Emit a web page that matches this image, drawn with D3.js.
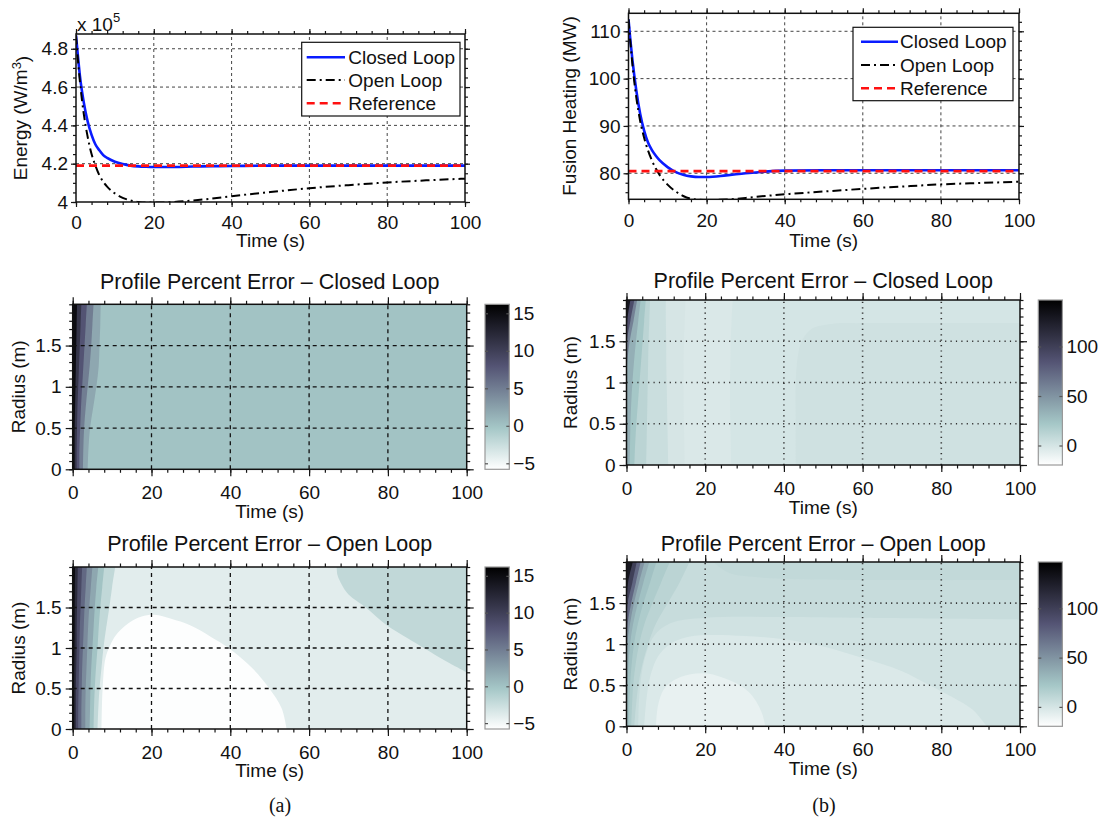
<!DOCTYPE html>
<html>
<head>
<meta charset="utf-8">
<script src="https://cdn.jsdelivr.net/npm/d3@7"></script>
<style>
  body { margin: 0; background: #fff; }
  text { font-family: "Liberation Sans", Arial, Helvetica, sans-serif; fill: #111; }
  .serif { font-family: "Liberation Serif", "Times New Roman", serif; }
</style>
</head>
<body>
<svg id="fig" width="1104" height="829"></svg>
<script>
// ---------- data ----------
const timeS = [0, 0.5, 1, 2, 3, 4, 5, 6, 7, 8, 10, 12, 14, 16, 18, 20, 25, 30, 35, 40, 50, 60, 70, 80, 90, 100];

// (a) energy, x 10^5 W/m^3
const energyClosed = [4.87, 4.76, 4.66, 4.52, 4.42, 4.35, 4.30, 4.27, 4.245, 4.23, 4.21, 4.198, 4.19, 4.186, 4.184, 4.183, 4.183, 4.185, 4.187, 4.188, 4.19, 4.19, 4.19, 4.19, 4.19, 4.19];
const energyOpen = [4.87, 4.74, 4.63, 4.46, 4.34, 4.25, 4.19, 4.14, 4.105, 4.08, 4.045, 4.022, 4.008, 4.0, 3.997, 3.997, 4.0, 4.008, 4.018, 4.03, 4.052, 4.072, 4.088, 4.102, 4.113, 4.122];
const energyRef = 4.19;

// (b) fusion heating, MW
const fusionClosed = [112.5, 108, 104, 97.5, 92.5, 89, 86.5, 84.9, 83.7, 82.7, 81.3, 80.3, 79.7, 79.35, 79.2, 79.2, 79.55, 80.0, 80.35, 80.55, 80.65, 80.65, 80.65, 80.65, 80.65, 80.65];
const fusionOpen = [112.5, 107.5, 103, 96, 91, 87.5, 84.8, 82.7, 81.0, 79.6, 77.6, 76.2, 75.2, 74.6, 74.4, 74.35, 74.45, 74.8, 75.2, 75.55, 76.15, 76.7, 77.2, 77.65, 77.95, 78.2];
const fusionRef = 80.45;

// tick values / labels
const timeTicks = [0, 20, 40, 60, 80, 100];
const energyTicks = [4, 4.2, 4.4, 4.6, 4.8];
const fusionTicks = [80, 90, 100, 110];
const radiusTicks = [0, 0.5, 1, 1.5];
const cbarTicksA = [-5, 0, 5, 10, 15];
const cbarTicksB = [0, 50, 100];
const cbarRangeA = [-5.8, 16.2];
const cbarRangeB = [-19.7, 147];
const legendNames = ["Closed Loop", "Open Loop", "Reference"];

// contour regions: radius samples for the band edges (time at each radius)
const radiusGrid = [0, 0.25, 0.5, 0.75, 1, 1.25, 1.5, 1.75, 2];

// profile percent error (a), closed loop
const closedABase = 0;
const closedAPatches = [];
const closedABands = [
  [2, [3.8, 4.0, 4.4, 5.2, 6.0, 6.6, 6.8, 7.0, 7.1]],
  [5, [2.6, 2.7, 2.9, 3.3, 3.8, 4.3, 4.7, 5.0, 5.3]],
  [8, [1.7, 1.7, 1.9, 2.1, 2.4, 2.7, 3.0, 3.3, 3.6]],
  [11, [1.0, 1.0, 1.1, 1.2, 1.4, 1.6, 1.8, 2.0, 2.2]],
  [15, [0.5, 0.5, 0.5, 0.6, 0.7, 0.8, 0.9, 1.0, 1.1]]
];

// profile percent error (a), open loop
const openABase = -4;
const openAPatches = [
  [-2, [[67, 2], [67.2, 1.9], [68.3, 1.78], [70, 1.66], [74.4, 1.5], [79.7, 1.28], [85, 1.12], [89.1, 1.0], [95, 0.83], [100, 0.7]], [[100, 2]]],
  [-5.7, [[7.3, 0], [7.4, 0.25], [7.6, 0.5], [8.3, 0.87], [9.5, 1.03], [11, 1.16], [14.6, 1.32], [17.5, 1.39], [20.8, 1.41], [25, 1.36], [29.8, 1.28], [35, 1.14], [39.6, 1.0], [45.8, 0.74], [49.9, 0.5], [53, 0.26], [54.3, 0]], []]
];
const openABands = [
  [-2, [6.3, 6.5, 6.8, 7.3, 7.8, 8.5, 9.3, 10.0, 10.8]],
  [0, [5.3, 5.4, 5.6, 5.9, 6.3, 6.6, 7.0, 7.5, 8.0]],
  [2, [4.3, 4.4, 4.5, 4.7, 5.0, 5.3, 5.6, 6.0, 6.5]],
  [4, [3.2, 3.2, 3.3, 3.5, 3.7, 3.9, 4.2, 4.6, 5.0]],
  [6.5, [2.2, 2.2, 2.3, 2.4, 2.6, 2.8, 3.0, 3.3, 3.6]],
  [9, [1.4, 1.4, 1.5, 1.6, 1.7, 1.8, 2.0, 2.2, 2.4]],
  [12, [0.8, 0.8, 0.8, 0.9, 1.0, 1.0, 1.1, 1.2, 1.3]],
  [15, [0.4, 0.4, 0.4, 0.4, 0.45, 0.5, 0.5, 0.55, 0.6]]
];

// profile percent error (b), closed loop
const closedBBase = 0;
const closedBPatches = [
  [2.5, [[43, 0], [43, 0.5], [43, 1.0], [43.5, 1.3], [44.5, 1.5], [47, 1.65], [52, 1.71], [60, 1.72], [100, 1.72]], [[100, 0]]]
];
const closedBBands = [
  [-2.5, [26.6, 26.5, 26.4, 26.3, 26.3, 26.4, 26.5, 26.7, 27.0]],
  [-0.5, [14.8, 14.7, 14.6, 14.5, 14.5, 14.5, 14.6, 14.8, 15.0]],
  [5, [10.6, 10.5, 10.4, 10.3, 10.2, 10.1, 10.1, 10.0, 10.0]],
  [12, [5.0, 5.1, 5.2, 5.3, 5.4, 5.5, 5.6, 5.8, 6.0]],
  [22, [2.0, 2.2, 2.5, 2.9, 3.3, 3.7, 4.1, 4.5, 4.9]],
  [35, [0.8, 0.9, 1.0, 1.2, 1.5, 1.9, 2.4, 3.0, 3.6]],
  [60, [0, 0, 0, 0, 0, 0.2, 0.8, 1.8, 2.7]],
  [90, [0, 0, 0, 0, 0, 0, 0.1, 1.0, 2.0]],
  [130, [0, 0, 0, 0, 0, 0, 0, 0.2, 1.0]]
];

// profile percent error (b), open loop
const openBBase = 6;
const openBPatches = [
  [8.5, [[22, 2], [26, 1.87], [32, 1.82], [45, 1.79], [70, 1.78], [100, 1.78]], [[100, 2]]],
  [2, [[3, 0], [3.3, 0.4], [4.5, 0.8], [7, 1.1], [11, 1.25], [20, 1.32], [40, 1.33], [60, 1.32], [100, 1.3]], [[100, 0]]],
  [-3, [[4.5, 0], [5, 0.3], [6, 0.6], [8, 0.85], [11, 1.0], [15, 1.08], [20, 1.11], [30, 1.1], [40, 1.06], [50, 0.97], [60, 0.83], [70, 0.67], [77, 0.5], [83, 0.35], [88, 0.2], [91.5, 0]], []],
  [-9, [[7.5, 0], [8, 0.25], [9.5, 0.45], [12, 0.56], [16, 0.63], [20, 0.645], [24, 0.6], [28, 0.52], [31, 0.42], [33, 0.3], [34.5, 0.15], [35.3, 0]], []]
];
const openBBands = [
  [12, [2.0, 2.4, 3.0, 4.0, 5.5, 7.5, 10.5, 13.5, 16]],
  [18, [1.2, 1.4, 1.7, 2.3, 3.2, 4.6, 6.6, 8.8, 11]],
  [25, [0.6, 0.7, 0.9, 1.3, 1.9, 2.9, 4.3, 6.0, 7.6]],
  [35, [0.2, 0.2, 0.3, 0.5, 0.9, 1.7, 2.9, 4.3, 5.8]],
  [50, [0, 0, 0, 0, 0.2, 0.9, 1.9, 3.2, 4.6]],
  [75, [0, 0, 0, 0, 0, 0.3, 1.2, 2.4, 3.6]],
  [100, [0, 0, 0, 0, 0, 0, 0.3, 1.5, 2.6]],
  [130, [0, 0, 0, 0, 0, 0, 0, 0.4, 1.6]]
];

// ---------- drawing ----------
const FONT = 19;
const svg = d3.select("#fig");
const defs = svg.append("defs");
const fmt = d => String(d).replace("-", "\u2212");

// reversed "bone" colormap
const cmap = d3.scaleLinear()
  .domain([0, 0.25, 0.625, 1])
  .range(["#ffffff", "rgb(165,199,199)", "rgb(84,84,116)", "#000000"])
  .clamp(true);
const colorFor = range => {
  const n = d3.scaleLinear().domain(range).range([0, 1]).clamp(true);
  return v => cmap(n(v));
};

function axisStyle(sel) {
  sel.attr("color", "#151515").attr("font-size", FONT).attr("font-family", null);
  sel.select(".domain").remove();
  sel.selectAll("line").attr("stroke-width", 1.2);
}

function drawAxes(g, x, y, o) {
  const [x0, x1] = x.range();
  const [y1, y0] = y.range();
  const add = (tr, ax) => g.append("g").attr("transform", tr).call(ax).call(axisStyle);
  // minor ticks
  add(`translate(0,${y1})`, d3.axisBottom(x).tickValues(o.xMinor).tickSize(o.minor).tickFormat(""));
  add(`translate(0,${y0})`, d3.axisTop(x).tickValues(o.xMinor).tickSize(o.minor).tickFormat(""));
  add(`translate(${x0},0)`, d3.axisLeft(y).tickValues(o.yMinor).tickSize(o.minor).tickFormat(""));
  add(`translate(${x1},0)`, d3.axisRight(y).tickValues(o.yMinor).tickSize(o.minor).tickFormat(""));
  // major ticks
  add(`translate(0,${y1})`, d3.axisBottom(x).tickValues(o.xTicks).tickSize(o.major).tickPadding(o.padX).tickFormat(fmt));
  add(`translate(0,${y0})`, d3.axisTop(x).tickValues(o.xTicks).tickSize(o.major).tickFormat(""));
  add(`translate(${x0},0)`, d3.axisLeft(y).tickValues(o.yTicks).tickSize(o.major).tickPadding(o.padY).tickFormat(fmt));
  add(`translate(${x1},0)`, d3.axisRight(y).tickValues(o.yTicks).tickSize(o.major).tickFormat(""));
  g.append("rect")
    .attr("x", x0).attr("y", y0).attr("width", x1 - x0).attr("height", y1 - y0)
    .attr("fill", "none").attr("stroke", "#111").attr("stroke-width", 1.5);
}

function drawGrid(g, x, y, xs, ys, st) {
  const [x0, x1] = x.range();
  const [y1, y0] = y.range();
  const gg = g.append("g")
    .attr("stroke", st.color).attr("stroke-width", st.width)
    .attr("stroke-dasharray", st.dash).attr("stroke-linecap", st.cap || "butt");
  gg.selectAll(".gv").data(xs.filter(d => d > x.domain()[0] && d < x.domain()[1])).join("line")
    .attr("x1", d => x(d)).attr("x2", d => x(d)).attr("y1", y1).attr("y2", y0);
  gg.selectAll(".gh").data(ys.filter(d => d > y.domain()[0] && d < y.domain()[1])).join("line")
    .attr("y1", d => y(d)).attr("y2", d => y(d)).attr("x1", x0).attr("x2", x1);
}

function labels(o) {
  svg.append("text").attr("x", o.xl[0]).attr("y", o.xl[1])
    .attr("text-anchor", "middle").attr("font-size", FONT).text("Time (s)");
  const yl = svg.append("text")
    .attr("transform", `translate(${o.yl[0]},${o.yl[1]}) rotate(-90)`)
    .attr("text-anchor", "middle").attr("dy", "0.35em").attr("font-size", FONT);
  if (o.ySup) {
    yl.append("tspan").text(o.yText);
    yl.append("tspan").attr("dy", "-0.45em").attr("font-size", 13).text(o.ySup);
    yl.append("tspan").attr("dy", "0.45em").text(")");
  } else {
    yl.text(o.yText);
  }
}

let clipN = 0;
function clipRect(x, y) {
  const id = "clip" + (clipN++);
  const [x0, x1] = x.range();
  const [y1, y0] = y.range();
  defs.append("clipPath").attr("id", id).append("rect")
    .attr("x", x0).attr("y", y0).attr("width", x1 - x0).attr("height", y1 - y0);
  return `url(#${id})`;
}

function linePanel(o) {
  const g = svg.append("g");
  const x = d3.scaleLinear().domain([0, 100]).range(o.xr);
  const y = d3.scaleLinear().domain(o.yd).range(o.yr);
  drawGrid(g, x, y, timeTicks, o.yTicks, { color: "#444", width: 1, dash: "3,3" });

  const plot = g.append("g").attr("clip-path", clipRect(x, y));
  const line = d3.line().x((d, i) => x(timeS[i])).y(d => y(d)).curve(d3.curveMonotoneX);
  plot.append("path").attr("d", line(o.closed)).attr("fill", "none")
    .attr("stroke", "#0a1cff").attr("stroke-width", 2.6);
  plot.append("path").attr("d", line(o.open)).attr("fill", "none")
    .attr("stroke", "#000").attr("stroke-width", 2).attr("stroke-dasharray", "9,4,2,4");
  plot.append("line").attr("x1", x(0)).attr("x2", x(100)).attr("y1", y(o.ref)).attr("y2", y(o.ref))
    .attr("stroke", "#ff1010").attr("stroke-width", 2.6).attr("stroke-dasharray", "8,5");

  drawAxes(g, x, y, {
    xTicks: timeTicks, xMinor: d3.range(0, 101, 4),
    yTicks: o.yTicks, yMinor: o.yMinor,
    major: 5, minor: 3, padX: 9, padY: 3
  });

  // legend
  const L = o.legend;
  const lg = g.append("g");
  lg.append("rect").attr("x", L.x).attr("y", L.y).attr("width", L.w).attr("height", L.h)
    .attr("fill", "#fff").attr("stroke", "#111").attr("stroke-width", 1.2);
  const styles = [
    { c: "#0a1cff", d: null, w: 2.6 },
    { c: "#000", d: "9,4,2,4", w: 2 },
    { c: "#ff1010", d: "8,5", w: 2.6 }
  ];
  legendNames.forEach((name, i) => {
    const yy = L.rows[i];
    lg.append("line").attr("x1", L.lx[0]).attr("x2", L.lx[1]).attr("y1", yy).attr("y2", yy)
      .attr("stroke", styles[i].c).attr("stroke-width", styles[i].w)
      .attr("stroke-dasharray", styles[i].d);
    lg.append("text").attr("x", L.tx).attr("y", yy).attr("dy", "0.35em")
      .attr("font-size", FONT).text(name);
  });
  labels(o);
  return { g, x, y };
}

function contourPanel(o) {
  const g = svg.append("g");
  const x = d3.scaleLinear().domain([0, 100]).range(o.xr);
  const y = d3.scaleLinear().domain([0, 2]).range(o.yr);
  const col = colorFor(o.crange);
  const plot = g.append("g").attr("clip-path", clipRect(x, y));
  plot.append("rect").attr("x", o.xr[0]).attr("y", o.yr[1])
    .attr("width", o.xr[1] - o.xr[0]).attr("height", o.yr[0] - o.yr[1])
    .attr("fill", col(o.base));
  const curve = d3.line().x(d => x(d[0])).y(d => y(d[1])).curve(d3.curveCatmullRom);
  o.patches.forEach(([v, pts, corners]) => {
    const tail = corners.map(p => `L${x(p[0])},${y(p[1])}`).join("");
    plot.append("path").attr("d", curve(pts) + tail + "Z").attr("fill", col(v));
  });
  o.bands.forEach(([v, edge]) => {
    const pts = radiusGrid.map((r, i) => [edge[i], r]);
    const tail = `L${x(-1)},${y(2.05)}L${x(-1)},${y(-0.05)}`;
    plot.append("path").attr("d", curve(pts) + tail + "Z").attr("fill", col(v));
  });
  drawGrid(g, x, y, timeTicks, radiusTicks, o.gridStyle);
  drawAxes(g, x, y, {
    xTicks: timeTicks, xMinor: d3.range(0, 101, 4),
    yTicks: radiusTicks, yMinor: d3.range(0, 2.001, 0.1),
    major: 7, minor: 3.5, padX: 9.5, padY: 4
  });
  svg.append("text").attr("x", (o.xr[0] + o.xr[1]) / 2).attr("y", o.titleY)
    .attr("text-anchor", "middle").attr("font-size", 21.5).text(o.title);
  labels(o);

  // colorbar
  const cb = o.cbar;
  const gid = "grad" + clipN;
  const grad = defs.append("linearGradient").attr("id", gid)
    .attr("x1", 0).attr("y1", 1).attr("x2", 0).attr("y2", 0);
  d3.range(0, 1.0001, 0.125).forEach(s => grad.append("stop").attr("offset", s).attr("stop-color", cmap(s)));
  const cy = d3.scaleLinear().domain(o.crange).range(o.yr);
  const cg = svg.append("g");
  cg.append("rect").attr("x", cb[0]).attr("y", o.yr[1]).attr("width", cb[1] - cb[0])
    .attr("height", o.yr[0] - o.yr[1]).attr("fill", `url(#${gid})`)
    .attr("stroke", "#999").attr("stroke-width", 1.2);
  cg.append("g").attr("transform", `translate(${cb[1]},0)`)
    .call(d3.axisLeft(cy).tickValues(o.cticks).tickSize(3).tickFormat("")).call(axisStyle)
    .selectAll("line").attr("stroke", "#555");
  cg.append("g").attr("transform", `translate(${cb[0]},0)`)
    .call(d3.axisRight(cy).tickValues(o.cticks).tickSize(3).tickFormat("")).call(axisStyle)
    .selectAll("line").attr("stroke", "#555");
  cg.append("g").attr("transform", `translate(${cb[1]},0)`)
    .call(d3.axisRight(cy).tickValues(o.cticks).tickSize(0).tickPadding(4).tickFormat(fmt)).call(axisStyle);
}

// ---- top line plots ----
linePanel({
  xr: [76, 465], yr: [202, 34], yd: [4, 4.877],
  yTicks: energyTicks, yMinor: d3.range(4, 4.88, 0.05),
  closed: energyClosed, open: energyOpen, ref: energyRef,
  legend: { x: 301.7, y: 42.3, w: 158.3, h: 73.7, rows: [57.3, 80, 103.3], lx: [306.7, 345], tx: 348.3 },
  xl: [270.5, 247], yl: [20, 118], yText: "Energy (W/m", ySup: "3"
});
const exp = svg.append("text").attr("x", 77).attr("y", 31).attr("font-size", FONT);
exp.append("tspan").text("x 10");
exp.append("tspan").attr("dy", -9).attr("font-size", 13).text("5");

linePanel({
  xr: [628.5, 1019], yr: [199.3, 13.3], yd: [74.5, 113.8],
  yTicks: fusionTicks, yMinor: d3.range(76, 113.8, 2),
  closed: fusionClosed, open: fusionOpen, ref: fusionRef,
  legend: { x: 853, y: 27.3, w: 160, h: 73.4, rows: [41.7, 65, 88.3], lx: [861, 898], tx: 900 },
  xl: [823.7, 247], yl: [569, 106], yText: "Fusion Heating (MW)"
});

// ---- contour panels ----
const dashedGrid = { color: "#111", width: 1.3, dash: "4,4" };
const dottedGrid = { color: "#333", width: 1.6, dash: "1.2,4.2" };

contourPanel({
  xr: [72.7, 466.7], yr: [469.3, 304.3], crange: cbarRangeA, cticks: cbarTicksA,
  base: closedABase, patches: closedAPatches, bands: closedABands, gridStyle: dashedGrid,
  title: "Profile Percent Error \u2013 Closed Loop", titleY: 288.5,
  cbar: [485, 509.3], xl: [269.7, 518], yl: [18, 386.8], yText: "Radius (m)"
});
contourPanel({
  xr: [72.7, 466.7], yr: [729, 567], crange: cbarRangeA, cticks: cbarTicksA,
  base: openABase, patches: openAPatches, bands: openABands, gridStyle: dashedGrid,
  title: "Profile Percent Error \u2013 Open Loop", titleY: 551,
  cbar: [485, 509.3], xl: [269.7, 777], yl: [18, 648], yText: "Radius (m)"
});
contourPanel({
  xr: [626.5, 1020], yr: [465, 300], crange: cbarRangeB, cticks: cbarTicksB,
  base: closedBBase, patches: closedBPatches, bands: closedBBands, gridStyle: dottedGrid,
  title: "Profile Percent Error \u2013 Closed Loop", titleY: 288.3,
  cbar: [1038.3, 1062.4], xl: [823.3, 514], yl: [570, 382.5], yText: "Radius (m)"
});
contourPanel({
  xr: [626.5, 1020], yr: [726.3, 562], crange: cbarRangeB, cticks: cbarTicksB,
  base: openBBase, patches: openBPatches, bands: openBBands, gridStyle: dottedGrid,
  title: "Profile Percent Error \u2013 Open Loop", titleY: 550.5,
  cbar: [1038.3, 1062.4], xl: [823.3, 775], yl: [570, 644], yText: "Radius (m)"
});

// sub-figure labels
svg.append("text").attr("class", "serif").attr("x", 280).attr("y", 812)
  .attr("text-anchor", "middle").attr("font-size", 20).text("(a)");
svg.append("text").attr("class", "serif").attr("x", 824).attr("y", 812)
  .attr("text-anchor", "middle").attr("font-size", 20).text("(b)");
</script>
</body>
</html>
